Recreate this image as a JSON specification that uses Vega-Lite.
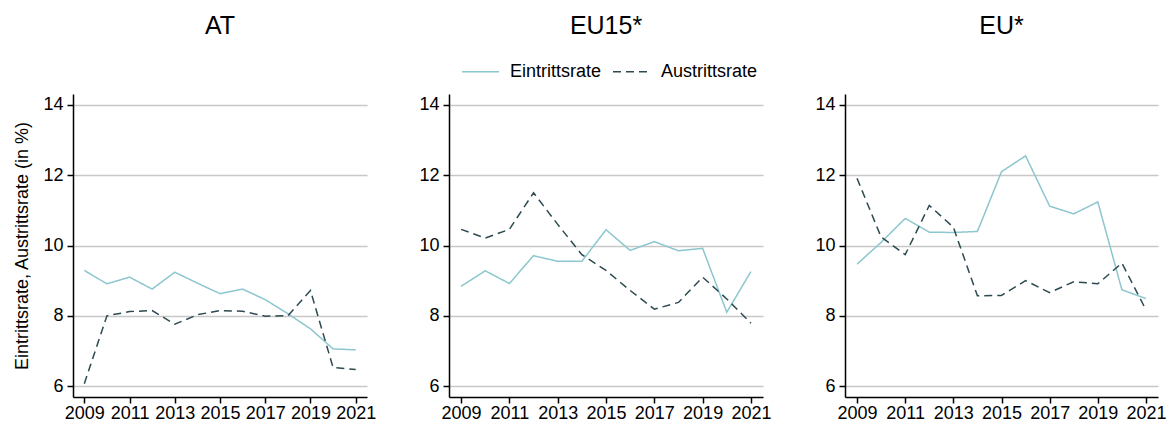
{
  "$schema": "https://vega.github.io/schema/vega-lite/v6.json",
  "background": "white",
  "padding": {"left": 13, "top": 14, "right": 5, "bottom": 0},
  "datasets": {
    "rates": [
      {"region": "AT", "series": "Eintrittsrate", "year": 2009, "value": 9.29},
      {"region": "AT", "series": "Eintrittsrate", "year": 2010, "value": 8.91},
      {"region": "AT", "series": "Eintrittsrate", "year": 2011, "value": 9.10},
      {"region": "AT", "series": "Eintrittsrate", "year": 2012, "value": 8.76},
      {"region": "AT", "series": "Eintrittsrate", "year": 2013, "value": 9.24},
      {"region": "AT", "series": "Eintrittsrate", "year": 2014, "value": 8.93},
      {"region": "AT", "series": "Eintrittsrate", "year": 2015, "value": 8.63},
      {"region": "AT", "series": "Eintrittsrate", "year": 2016, "value": 8.76},
      {"region": "AT", "series": "Eintrittsrate", "year": 2017, "value": 8.46},
      {"region": "AT", "series": "Eintrittsrate", "year": 2018, "value": 8.06},
      {"region": "AT", "series": "Eintrittsrate", "year": 2019, "value": 7.63},
      {"region": "AT", "series": "Eintrittsrate", "year": 2020, "value": 7.06},
      {"region": "AT", "series": "Eintrittsrate", "year": 2021, "value": 7.03},
      {"region": "AT", "series": "Austrittsrate", "year": 2009, "value": 6.07},
      {"region": "AT", "series": "Austrittsrate", "year": 2010, "value": 8.00},
      {"region": "AT", "series": "Austrittsrate", "year": 2011, "value": 8.12},
      {"region": "AT", "series": "Austrittsrate", "year": 2012, "value": 8.15},
      {"region": "AT", "series": "Austrittsrate", "year": 2013, "value": 7.76},
      {"region": "AT", "series": "Austrittsrate", "year": 2014, "value": 8.03},
      {"region": "AT", "series": "Austrittsrate", "year": 2015, "value": 8.15},
      {"region": "AT", "series": "Austrittsrate", "year": 2016, "value": 8.13},
      {"region": "AT", "series": "Austrittsrate", "year": 2017, "value": 7.99},
      {"region": "AT", "series": "Austrittsrate", "year": 2018, "value": 8.00},
      {"region": "AT", "series": "Austrittsrate", "year": 2019, "value": 8.72},
      {"region": "AT", "series": "Austrittsrate", "year": 2020, "value": 6.53},
      {"region": "AT", "series": "Austrittsrate", "year": 2021, "value": 6.47},
      {"region": "EU15*", "series": "Eintrittsrate", "year": 2009, "value": 8.84},
      {"region": "EU15*", "series": "Eintrittsrate", "year": 2010, "value": 9.28},
      {"region": "EU15*", "series": "Eintrittsrate", "year": 2011, "value": 8.92},
      {"region": "EU15*", "series": "Eintrittsrate", "year": 2012, "value": 9.71},
      {"region": "EU15*", "series": "Eintrittsrate", "year": 2013, "value": 9.55},
      {"region": "EU15*", "series": "Eintrittsrate", "year": 2014, "value": 9.55},
      {"region": "EU15*", "series": "Eintrittsrate", "year": 2015, "value": 10.45},
      {"region": "EU15*", "series": "Eintrittsrate", "year": 2016, "value": 9.86},
      {"region": "EU15*", "series": "Eintrittsrate", "year": 2017, "value": 10.11},
      {"region": "EU15*", "series": "Eintrittsrate", "year": 2018, "value": 9.85},
      {"region": "EU15*", "series": "Eintrittsrate", "year": 2019, "value": 9.92},
      {"region": "EU15*", "series": "Eintrittsrate", "year": 2020, "value": 8.10},
      {"region": "EU15*", "series": "Eintrittsrate", "year": 2021, "value": 9.26},
      {"region": "EU15*", "series": "Austrittsrate", "year": 2009, "value": 10.46},
      {"region": "EU15*", "series": "Austrittsrate", "year": 2010, "value": 10.21},
      {"region": "EU15*", "series": "Austrittsrate", "year": 2011, "value": 10.46},
      {"region": "EU15*", "series": "Austrittsrate", "year": 2012, "value": 11.50},
      {"region": "EU15*", "series": "Austrittsrate", "year": 2013, "value": 10.60},
      {"region": "EU15*", "series": "Austrittsrate", "year": 2014, "value": 9.74},
      {"region": "EU15*", "series": "Austrittsrate", "year": 2015, "value": 9.29},
      {"region": "EU15*", "series": "Austrittsrate", "year": 2016, "value": 8.72},
      {"region": "EU15*", "series": "Austrittsrate", "year": 2017, "value": 8.19},
      {"region": "EU15*", "series": "Austrittsrate", "year": 2018, "value": 8.38},
      {"region": "EU15*", "series": "Austrittsrate", "year": 2019, "value": 9.10},
      {"region": "EU15*", "series": "Austrittsrate", "year": 2020, "value": 8.48},
      {"region": "EU15*", "series": "Austrittsrate", "year": 2021, "value": 7.79},
      {"region": "EU*", "series": "Eintrittsrate", "year": 2009, "value": 9.47},
      {"region": "EU*", "series": "Eintrittsrate", "year": 2010, "value": 10.09},
      {"region": "EU*", "series": "Eintrittsrate", "year": 2011, "value": 10.77},
      {"region": "EU*", "series": "Eintrittsrate", "year": 2012, "value": 10.38},
      {"region": "EU*", "series": "Eintrittsrate", "year": 2013, "value": 10.37},
      {"region": "EU*", "series": "Eintrittsrate", "year": 2014, "value": 10.40},
      {"region": "EU*", "series": "Eintrittsrate", "year": 2015, "value": 12.10},
      {"region": "EU*", "series": "Eintrittsrate", "year": 2016, "value": 12.55},
      {"region": "EU*", "series": "Eintrittsrate", "year": 2017, "value": 11.12},
      {"region": "EU*", "series": "Eintrittsrate", "year": 2018, "value": 10.90},
      {"region": "EU*", "series": "Eintrittsrate", "year": 2019, "value": 11.24},
      {"region": "EU*", "series": "Eintrittsrate", "year": 2020, "value": 8.74},
      {"region": "EU*", "series": "Eintrittsrate", "year": 2021, "value": 8.49},
      {"region": "EU*", "series": "Austrittsrate", "year": 2009, "value": 11.91},
      {"region": "EU*", "series": "Austrittsrate", "year": 2010, "value": 10.24},
      {"region": "EU*", "series": "Austrittsrate", "year": 2011, "value": 9.74},
      {"region": "EU*", "series": "Austrittsrate", "year": 2012, "value": 11.14},
      {"region": "EU*", "series": "Austrittsrate", "year": 2013, "value": 10.52},
      {"region": "EU*", "series": "Austrittsrate", "year": 2014, "value": 8.57},
      {"region": "EU*", "series": "Austrittsrate", "year": 2015, "value": 8.58},
      {"region": "EU*", "series": "Austrittsrate", "year": 2016, "value": 9.00},
      {"region": "EU*", "series": "Austrittsrate", "year": 2017, "value": 8.66},
      {"region": "EU*", "series": "Austrittsrate", "year": 2018, "value": 8.97},
      {"region": "EU*", "series": "Austrittsrate", "year": 2019, "value": 8.91},
      {"region": "EU*", "series": "Austrittsrate", "year": 2020, "value": 9.50},
      {"region": "EU*", "series": "Austrittsrate", "year": 2021, "value": 8.17}
    ]
  },
  "data": {"name": "rates"},
  "config": {
    "font": "Liberation Sans",
    "view": {"stroke": null},
    "title": {"fontSize": 25, "fontWeight": "normal", "color": "#000000", "anchor": "middle", "offset": 55},
    "axis": {
      "labelFont": "Liberation Sans",
      "labelFontSize": 18,
      "labelColor": "#000000",
      "labelPadding": 4,
      "labelOverlap": false,
      "domainColor": "#000000",
      "domainWidth": 1.5,
      "tickColor": "#000000",
      "tickSize": 6,
      "tickWidth": 1.5,
      "gridColor": "#c8c8c8",
      "gridWidth": 1.4,
      "titleFont": "Liberation Sans",
      "titleFontSize": 18,
      "titleFontWeight": "normal",
      "titleColor": "#000000"
    },
    "axisX": {"labelPadding": 1},
    "legend": {
      "orient": "none",
      "legendX": 388,
      "legendY": -42,
      "direction": "horizontal",
      "labelFont": "Liberation Sans",
      "labelFontSize": 18,
      "labelColor": "#000000",
      "symbolType": "stroke",
      "symbolSize": 1369,
      "symbolStrokeWidth": 1.5,
      "labelOffset": 10,
      "columnPadding": 8
    }
  },
  "bounds": "flush",
  "spacing": 82,
  "resolve": {"scale": {"color": "shared", "strokeDash": "shared"}, "legend": {"color": "shared", "strokeDash": "shared"}},
  "hconcat": [
    {
      "width": 294,
      "height": 303,
      "title": "AT",
      "transform": [{"filter": "datum.region === 'AT'"}],
      "mark": {"type": "line", "strokeWidth": 1.5},
      "encoding": {
        "x": {"field": "year", "type": "quantitative", "scale": {"domain": [2008.5, 2021.5], "nice": false, "zero": false}, "axis": {"values": [2009, 2011, 2013, 2015, 2017, 2019, 2021], "format": "d", "title": null, "grid": false}},
        "y": {"field": "value", "type": "quantitative", "scale": {"domain": [5.69, 14.31], "nice": false, "zero": false}, "axis": {"values": [6, 8, 10, 12, 14], "title": "Eintrittsrate, Austrittsrate (in %)", "titlePadding": 11, "grid": true}},
        "color": {"field": "series", "type": "nominal", "scale": {"domain": ["Eintrittsrate", "Austrittsrate"], "range": ["#8cc6ce", "#2c4a50"]}, "legend": {"title": null}},
        "strokeDash": {"field": "series", "type": "nominal", "scale": {"domain": ["Eintrittsrate", "Austrittsrate"], "range": [[1, 0], [8, 5]]}, "legend": {"title": null}}
      }
    },
    {
      "width": 314,
      "height": 303,
      "title": "EU15*",
      "transform": [{"filter": "datum.region === 'EU15*'"}],
      "mark": {"type": "line", "strokeWidth": 1.5},
      "encoding": {
        "x": {"field": "year", "type": "quantitative", "scale": {"domain": [2008.5, 2021.5], "nice": false, "zero": false}, "axis": {"values": [2009, 2011, 2013, 2015, 2017, 2019, 2021], "format": "d", "title": null, "grid": false}},
        "y": {"field": "value", "type": "quantitative", "scale": {"domain": [5.69, 14.31], "nice": false, "zero": false}, "axis": {"values": [6, 8, 10, 12, 14], "title": null, "grid": true}},
        "color": {"field": "series", "type": "nominal", "legend": {"title": null}},
        "strokeDash": {"field": "series", "type": "nominal", "legend": {"title": null}}
      }
    },
    {
      "width": 313,
      "height": 303,
      "title": "EU*",
      "transform": [{"filter": "datum.region === 'EU*'"}],
      "mark": {"type": "line", "strokeWidth": 1.5},
      "encoding": {
        "x": {"field": "year", "type": "quantitative", "scale": {"domain": [2008.5, 2021.5], "nice": false, "zero": false}, "axis": {"values": [2009, 2011, 2013, 2015, 2017, 2019, 2021], "format": "d", "title": null, "grid": false}},
        "y": {"field": "value", "type": "quantitative", "scale": {"domain": [5.69, 14.31], "nice": false, "zero": false}, "axis": {"values": [6, 8, 10, 12, 14], "title": null, "grid": true}},
        "color": {"field": "series", "type": "nominal", "legend": {"title": null}},
        "strokeDash": {"field": "series", "type": "nominal", "legend": {"title": null}}
      }
    }
  ]
}
